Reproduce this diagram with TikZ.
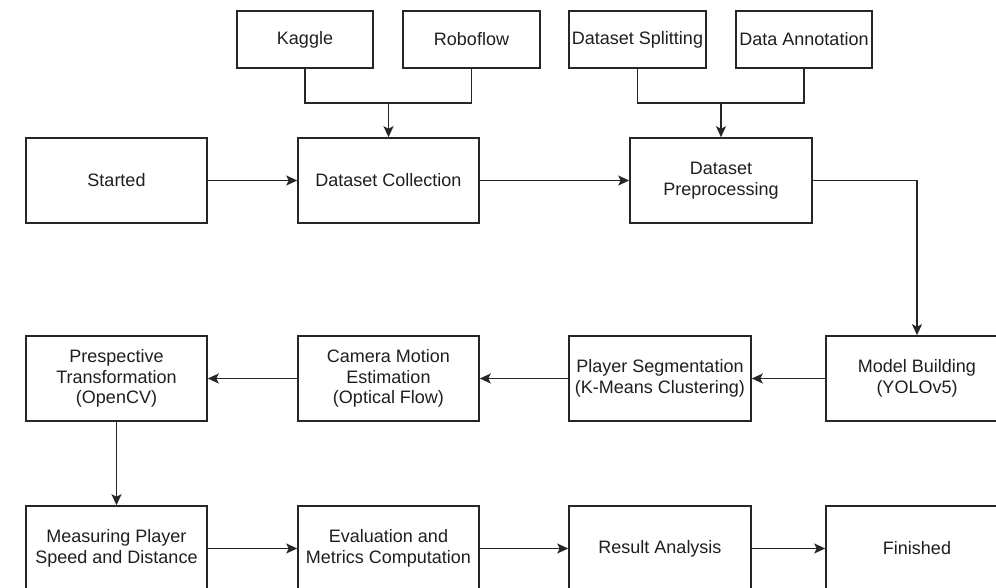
\documentclass[tikz,border=0pt]{standalone}
\usepackage{fontspec}
\setmainfont{Liberation Sans}
\usetikzlibrary{arrows.meta}
\begin{document}
\begin{tikzpicture}[x=1pt,y=-1pt,
  box/.style={draw=black!85,line width=1.6pt,fill=white,minimum height=85pt,inner sep=1pt,align=center,
    font=\fontsize{18}{20.8}\selectfont,text=black!88},
  topbox/.style={box,minimum height=57pt},
  arr/.style={draw=black!85,line width=1.6pt,-{Stealth[length=11pt,width=10pt,inset=2.5pt]}},
  ln/.style={draw=black!85,line width=1.6pt}]
\useasboundingbox (0,0) rectangle (996,588);
\clip (0,0) rectangle (996,588);
% top sources
\node[topbox,minimum width=136pt] (kag) at (305,39.5) {Kaggle};
\node[topbox,minimum width=137pt] (rob) at (471.5,39.5) {Roboflow};
\node[topbox,minimum width=137pt] (spl) at (637.5,39.5) {Dataset Splitting};
\node[topbox,minimum width=136pt] (ann) at (804,39.5) {Data Annotation};
% row 1
\node[box,minimum width=181pt] (start) at (116.5,180.5) {Started};
\node[box,minimum width=181pt] (coll) at (388.5,180.5) {Dataset Collection};
\node[box,minimum width=182pt] (prep) at (721,180.5) {Dataset\\Preprocessing};
% row 2
\node[box,minimum width=181pt] (persp) at (116.5,378.5) {Prespective\\Transformation\\(OpenCV)};
\node[box,minimum width=181pt] (cam) at (388.5,378.5) {Camera Motion\\Estimation\\(Optical Flow)};
\node[box,minimum width=182pt] (seg) at (660,378.5) {Player Segmentation\\(K-Means Clustering)};
\node[box,minimum width=182pt] (model) at (917,378.5) {Model Building\\(YOLOv5)};
% row 3
\node[box,minimum width=181pt] (meas) at (116.5,548.5) {Measuring Player\\Speed and Distance};
\node[box,minimum width=181pt] (eval) at (388.5,548.5) {Evaluation and\\Metrics Computation};
\node[box,minimum width=182pt] (res) at (660,548.5) {Result Analysis};
\node[box,minimum width=182pt] (fin) at (917,548.5) {Finished};
% junctions
\coordinate (j1) at (388.5,103);
\coordinate (j2) at (721,103);
\draw[ln] (kag.south) |- (j1) -| (rob.south);
\draw[arr] (j1) -- (coll.north);
\draw[ln] (spl.south) |- (j2) -| (ann.south);
\draw[arr] (j2) -- (prep.north);
% flow
\draw[arr] (start) -- (coll);
\draw[arr] (coll) -- (prep);
\draw[arr] (prep.east) -| (model.north);
\draw[arr] (model) -- (seg);
\draw[arr] (seg) -- (cam);
\draw[arr] (cam) -- (persp);
\draw[arr] (persp) -- (meas);
\draw[arr] (meas) -- (eval);
\draw[arr] (eval) -- (res);
\draw[arr] (res) -- (fin);
\end{tikzpicture}
\end{document}
